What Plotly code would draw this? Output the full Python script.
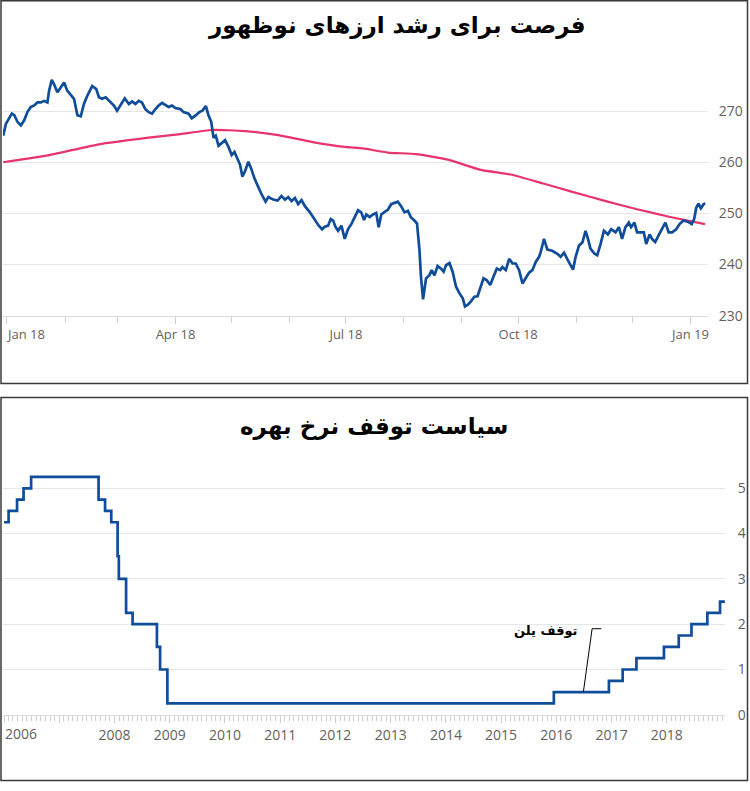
import pandas as pd
import plotly.graph_objects as go

# ---------------- data: top chart (index, daily) ----------------
top_title = "فرصت برای رشد ارزهای نوظهور"
top_base_date = "2017-12-30"
# (days after base date, value)
blue_points = [
    (0, 265.2), (1.4, 267.5), (4.6, 269.5), (5.9, 269.2), (7.6, 267.9), (9.4, 267.2), (11.2, 268.2),
    (12.9, 269.8), (14.7, 270.8), (16.5, 271.1), (18.3, 271.7), (20.1, 271.7), (21.8, 272.0), (23.6, 271.7),
    (24.5, 274.0), (25.9, 276.1), (27.1, 275.3), (28.9, 273.7), (30.7, 274.6), (32.5, 275.6), (34.2, 274.0),
    (36.0, 273.3), (37.8, 272.4), (39.6, 269.2), (41.4, 269.0), (43.1, 271.4), (44.9, 273.0), (47.5, 274.9),
    (49.7, 274.3), (51.1, 272.7), (52.8, 272.4), (54.7, 272.7), (56.4, 272.0), (59.1, 271.1), (60.8, 270.1),
    (62.6, 271.1), (64.9, 272.5), (67.1, 271.4), (68.8, 271.9), (70.6, 271.4), (72.4, 272.0), (74.1, 271.7),
    (75.9, 270.4), (77.7, 269.8), (79.5, 269.5), (81.3, 270.4), (83.0, 271.1), (84.8, 271.6), (86.6, 271.1),
    (88.3, 270.8), (90.1, 271.1), (91.9, 270.6), (94.6, 270.4), (96.3, 269.8), (99.0, 269.5), (100.7, 268.6),
    (102.6, 269.1), (104.7, 269.8), (106.4, 270.1), (108.2, 271.0), (109.6, 269.2), (111.1, 267.9),
    (112.3, 264.8), (113.5, 265.2), (115.0, 263.2), (116.4, 263.7), (118.5, 264.3), (120.3, 263.0),
    (122.0, 261.4), (123.5, 262.0), (125.2, 260.5), (126.5, 259.5), (127.7, 257.2), (129.2, 258.3),
    (130.9, 260.1), (132.4, 258.8), (134.1, 256.9), (135.9, 255.3), (138.0, 253.7), (140.1, 252.3),
    (141.6, 253.2), (144.2, 252.7), (146.5, 252.5), (148.6, 253.4), (150.5, 252.7), (152.2, 253.2),
    (154.0, 252.4), (155.8, 253.0), (157.5, 251.8), (159.3, 252.6), (161.1, 251.4), (163.8, 250.2),
    (166.4, 248.7), (168.5, 247.6), (170.3, 246.9), (171.7, 247.4), (173.5, 247.6), (174.9, 248.9),
    (176.2, 248.6), (177.4, 247.4), (178.8, 246.6), (180.6, 247.6), (182.4, 245.0), (184.1, 246.9),
    (185.9, 247.9), (187.7, 249.2), (189.5, 250.6), (191.2, 250.2), (192.7, 248.7), (193.9, 249.8),
    (195.7, 249.3), (197.5, 249.8), (199.2, 250.1), (200.5, 247.3), (201.9, 249.8), (203.7, 250.3),
    (205.4, 250.7), (207.2, 251.8), (209.0, 252.1), (210.7, 252.3), (212.5, 251.4), (214.3, 250.2),
    (216.1, 250.5), (217.8, 249.2), (219.6, 248.6), (221.0, 248.0), (222.3, 242.8), (223.1, 237.6),
    (224.2, 233.2), (225.8, 237.3), (227.6, 237.9), (228.8, 238.9), (230.3, 237.9), (232.0, 239.7),
    (233.8, 239.2), (235.2, 238.6), (236.5, 239.9), (238.3, 240.3), (240.0, 238.6), (241.8, 235.7),
    (243.6, 234.4), (245.4, 233.4), (246.6, 231.8), (248.0, 232.1), (249.8, 232.8), (251.6, 233.7),
    (253.3, 233.8), (255.1, 235.7), (256.5, 237.3), (258.3, 236.9), (260.1, 236.0), (261.8, 237.6),
    (263.6, 239.2), (265.4, 238.9), (266.6, 239.5), (268.4, 238.9), (270.2, 241.1), (272.0, 240.2),
    (273.7, 240.2), (275.5, 238.9), (277.3, 236.3), (279.0, 237.3), (280.8, 238.4), (282.6, 238.9),
    (284.4, 240.5), (286.2, 241.5), (287.0, 242.4), (288.8, 245.0), (290.6, 242.9), (293.2, 242.7),
    (295.9, 242.1), (297.7, 241.5), (299.5, 242.3), (301.6, 240.8), (303.0, 240.0), (304.3, 239.0),
    (305.7, 241.5), (307.5, 243.7), (309.3, 244.3), (311.0, 246.6), (312.3, 245.0), (313.6, 243.1),
    (315.8, 242.1), (317.2, 241.8), (319.0, 244.0), (320.8, 246.6), (322.9, 245.9), (324.7, 246.9),
    (327.0, 246.3), (328.8, 247.3), (330.5, 245.0), (332.3, 247.3), (334.1, 248.2), (335.3, 247.3),
    (337.1, 248.2), (338.5, 246.3), (340.2, 246.3), (342.1, 246.3), (343.4, 244.0), (345.2, 245.9),
    (346.5, 245.0), (348.2, 244.4), (350.0, 245.7), (351.8, 246.9), (353.6, 248.2), (355.4, 246.3),
    (357.2, 246.3), (359.4, 246.9), (361.2, 247.9), (363.3, 248.6), (366.0, 248.3), (367.7, 247.9),
    (369.0, 248.9), (370.1, 251.1), (371.3, 251.9), (372.6, 251.0), (374.0, 251.8), (374.9, 252.0),
]
# 200-day moving average (days after base date, value)
pink_points = [
    (0, 260.0), (24.5, 261.4), (51.1, 263.5), (77.7, 264.8), (94.6, 265.5), (111.4, 266.3),
    (129.2, 266.1), (146.9, 265.3), (164.6, 264.0), (182.4, 263.0), (192.1, 262.7), (205.4, 261.9),
    (220.5, 261.6), (237.4, 260.5), (255.1, 258.5), (271.0, 257.6), (287.9, 255.9), (303.0, 254.3),
    (320.8, 252.5), (338.5, 250.8), (356.2, 249.3), (374.8, 247.9),
]
top_tick_dates = ["2018-01-01", "2018-04-01", "2018-07-01", "2018-10-01", "2019-01-01"]
top_tick_labels = ["Jan 18", "Apr 18", "Jul 18", "Oct 18", "Jan 19"]
top_y_ticks = [230, 240, 250, 260, 270]

# ---------------- data: bottom chart (policy rate steps) ----------------
bottom_title = "سیاست توقف نرخ بهره"
rate_dates = [
    "2006-01-01", "2006-01-31", "2006-03-28", "2006-05-10", "2006-06-29", "2007-09-18",
    "2007-10-31", "2007-12-11", "2008-01-22", "2008-01-30", "2008-03-18", "2008-04-30",
    "2008-10-08", "2008-10-29", "2008-12-16", "2015-12-16", "2016-12-14", "2017-03-15",
    "2017-06-14", "2017-12-13", "2018-03-21", "2018-06-13", "2018-09-26", "2018-12-19",
    "2019-01-20",
]
rate_values = [
    4.25, 4.5, 4.75, 5.0, 5.25, 4.75,
    4.5, 4.25, 3.5, 3.0, 2.25, 2.0,
    1.5, 1.0, 0.25, 0.5, 0.75, 1.0,
    1.25, 1.5, 1.75, 2.0, 2.25, 2.5,
    2.5,
]
bottom_tick_years = list(range(2006, 2019))
bottom_tick_labels = ["2006", "", "2008", "2009", "2010", "2011", "2012", "2013",
                      "2014", "2015", "2016", "2017", "2018"]
bottom_y_ticks = [0, 1, 2, 3, 4, 5]
pause_label = "توقف یلن"
pause_anchor = ("2016-06-28", 0.5)
pause_elbow = ("2016-08-25", 1.9)
pause_end = ("2016-10-24", 1.9)

# ---------------- build ----------------
W, H = 750, 791
BLUE = "#0f4c9a"
PINK = "#e8336d"
GRID = "#e6e6e6"
TICKC = "#cfcfcf"
LABC = "#66605c"
NUMFONT = "Open Sans"
FAFONT = "DejaVu Sans"

base = pd.Timestamp(top_base_date)
blue_x = [base + pd.Timedelta(days=d) for d, _ in blue_points]
blue_y = [v for _, v in blue_points]
pink_x = [base + pd.Timedelta(days=d) for d, _ in pink_points]
pink_y = [v for _, v in pink_points]

fig = go.Figure()
fig.add_trace(go.Scatter(x=pink_x, y=pink_y, mode="lines", line=dict(color=PINK, width=2.2, shape="spline", smoothing=0.5),
                         xaxis="x", yaxis="y", hoverinfo="skip"))
fig.add_trace(go.Scatter(x=blue_x, y=blue_y, mode="lines", line=dict(color=BLUE, width=2.7),
                         xaxis="x", yaxis="y", hoverinfo="skip"))
fig.add_trace(go.Scatter(x=pd.to_datetime(rate_dates), y=rate_values, mode="lines",
                         line=dict(color=BLUE, width=2.7, shape="hv"),
                         xaxis="x2", yaxis="y2", hoverinfo="skip"))


def px_x(p):
    return p / W


def px_y(p):
    return 1 - p / H


top_tickvals = pd.to_datetime(top_tick_dates)
top_ticktext = [""] + top_tick_labels[1:]
bot_tickvals = [pd.Timestamp(f"{y}-01-01") for y in bottom_tick_years]
bot_ticktext = [""] + bottom_tick_labels[1:]

fig.update_layout(
    width=W, height=H,
    margin=dict(l=0, r=0, t=0, b=0),
    paper_bgcolor="white", plot_bgcolor="white",
    showlegend=False,
    xaxis=dict(domain=[px_x(3), px_x(709)], anchor="y", type="date",
               range=["2017-12-29 21:00", "2019-01-10 10:00"],
               tickvals=top_tickvals, ticktext=top_ticktext,
               ticks="outside", ticklen=7, tickcolor=TICKC, tickwidth=1,
               minor=dict(ticks="outside", dtick="M1", tick0="2018-01-01", ticklen=6, tickcolor=TICKC, showgrid=False),
               showgrid=False, zeroline=False, showline=True, linecolor="#dcdcdc", linewidth=1,
               tickfont=dict(family=NUMFONT, size=13, color=LABC)),
    yaxis=dict(domain=[px_y(319.3), px_y(71)], anchor="x", range=[230, 278], side="right",
               tickvals=top_y_ticks, ticks="outside", ticklen=7, tickcolor="rgba(0,0,0,0)",
               showgrid=True, gridcolor=GRID, gridwidth=1, zeroline=False, showline=False,
               tickfont=dict(family=NUMFONT, size=14, color=LABC)),
    xaxis2=dict(domain=[px_x(3), px_x(726)], anchor="y2", type="date",
                range=["2005-12-25", "2019-01-21"],
                tickvals=bot_tickvals, ticktext=bot_ticktext,
                ticks="outside", ticklen=7, tickcolor=TICKC, tickwidth=1,
                minor=dict(ticks="outside", dtick="M1", tick0="2006-01-01", ticklen=5, tickcolor=TICKC, showgrid=False),
                showgrid=False, zeroline=False, showline=True, linecolor="#dcdcdc", linewidth=1,
                tickfont=dict(family=NUMFONT, size=14, color=LABC)),
    yaxis2=dict(domain=[px_y(723), px_y(471)], anchor="x2", range=[0, 5.5], side="right",
                tickvals=bottom_y_ticks, ticks="outside", ticklen=9, tickcolor="rgba(0,0,0,0)",
                showgrid=True, gridcolor=GRID, gridwidth=1, zeroline=False, showline=False,
                tickfont=dict(family=NUMFONT, size=14, color=LABC)),
)

annotations = [
    dict(text=f"<b>{top_title}</b>", x=px_x(398), y=px_y(26), xref="paper", yref="paper",
         showarrow=False, xanchor="center", yanchor="middle",
         font=dict(family=FAFONT, size=23, color="black")),
    dict(text=f"<b>{bottom_title}</b>", x=px_x(374), y=px_y(431), xref="paper", yref="paper",
         showarrow=False, xanchor="center", yanchor="middle",
         font=dict(family=FAFONT, size=23, color="black")),
    dict(text=top_tick_labels[0], x=px_x(4), y=px_y(338), xref="paper", yref="paper",
         showarrow=False, xanchor="left", yanchor="middle",
         font=dict(family=NUMFONT, size=13, color=LABC)),
    dict(text=bottom_tick_labels[0], x=px_x(3), y=px_y(742), xref="paper", yref="paper",
         showarrow=False, xanchor="left", yanchor="middle",
         font=dict(family=NUMFONT, size=14, color=LABC)),
    dict(text=f"<b>{pause_label}</b>", x=px_x(580), y=px_y(638), xref="paper", yref="paper",
         showarrow=False, xanchor="right", yanchor="middle",
         font=dict(family=FAFONT, size=13, color="black")),
]
fig.update_layout(annotations=annotations)

shapes = [
    dict(type="rect", xref="paper", yref="paper", x0=px_x(1), x1=px_x(748.5), y0=px_y(388), y1=px_y(0.8),
         line=dict(color="#3a3a3a", width=1.5), fillcolor="rgba(0,0,0,0)", layer="above"),
    dict(type="rect", xref="paper", yref="paper", x0=px_x(1), x1=px_x(748.5), y0=px_y(789.5), y1=px_y(402),
         line=dict(color="#3a3a3a", width=1.5), fillcolor="rgba(0,0,0,0)", layer="above"),
    dict(type="line", xref="x2", yref="y2", x0=pause_anchor[0], y0=pause_anchor[1],
         x1=pause_elbow[0], y1=pause_elbow[1], line=dict(color="black", width=1)),
    dict(type="line", xref="x2", yref="y2", x0=pause_elbow[0], y0=pause_elbow[1],
         x1=pause_end[0], y1=pause_end[1], line=dict(color="black", width=1)),
]
fig.update_layout(shapes=shapes)

fig.write_html("out.html", config={"displayModeBar": False},
               post_script="document.body.style.margin='0';document.body.style.overflow='hidden';")
